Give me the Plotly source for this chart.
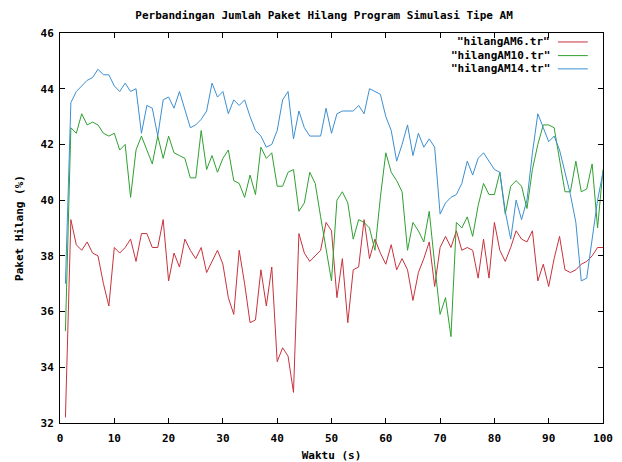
import plotly.graph_objects as go

# time (s)
waktu = list(range(1, 101))

am6 = [32.2, 39.3, 38.4, 38.2, 38.5, 38.1, 38.0, 37.0, 36.2, 38.3,
       38.1, 38.3, 38.6, 37.8, 38.8, 38.8, 38.3, 38.3, 39.3, 37.1,
       38.1, 37.6, 38.6, 38.2, 37.9, 38.3, 37.4, 37.8, 38.2, 37.7,
       36.5, 35.9, 38.2, 37.0, 35.6, 35.7, 37.5, 36.2, 37.6, 34.2,
       34.7, 34.4, 33.1, 38.8, 38.1, 37.8, 38.0, 38.2, 39.2, 38.9,
       36.5, 37.9, 35.6, 37.5, 37.6, 39.3, 37.9, 38.6, 38.1, 37.7,
       38.4, 37.5, 37.9, 37.5, 36.4, 37.4, 37.9, 38.5, 36.9, 38.3,
       38.7, 38.3, 38.9, 38.2, 38.3, 38.2, 37.2, 38.6, 37.2, 39.2,
       38.2, 37.8, 38.3, 38.9, 38.6, 38.5, 38.9, 37.1, 37.7, 36.9,
       37.9, 38.7, 37.5, 37.4, 37.5, 37.7, 37.8, 38.0, 38.3, 38.3]

am10 = [35.3, 42.6, 42.4, 43.1, 42.7, 42.8, 42.7, 42.4, 42.3, 42.4,
        41.8, 42.0, 40.1, 41.8, 42.3, 41.8, 41.3, 42.3, 41.5, 42.3,
        41.7, 41.6, 41.5, 40.8, 40.8, 42.5, 41.1, 41.6, 41.0, 41.5,
        41.8, 40.7, 40.6, 40.1, 40.9, 40.2, 41.9, 41.5, 41.7, 40.5,
        40.5, 41.0, 41.1, 39.6, 39.9, 41.0, 40.6, 39.4, 38.3, 37.1,
        40.0, 40.3, 39.9, 38.6, 39.3, 39.2, 39.0, 38.2, 40.1, 41.7,
        41.0, 40.7, 40.3, 38.2, 39.2, 38.9, 38.5, 39.6, 37.7, 35.9,
        36.5, 35.1, 39.2, 39.0, 39.4, 38.7, 39.8, 40.6, 40.2, 40.2,
        41.0, 39.5, 40.5, 40.7, 40.5, 39.7, 41.1, 42.0, 42.7, 42.7,
        42.6, 41.5, 40.3, 40.3, 41.4, 40.3, 40.4, 41.3, 39.0, 41.1]

am14 = [37.0, 43.5, 43.9, 44.1, 44.3, 44.4, 44.7, 44.5, 44.5, 44.1,
        43.9, 44.2, 43.9, 44.0, 42.4, 43.4, 43.3, 42.3, 43.6, 43.7,
        43.3, 43.9, 43.2, 42.6, 42.7, 42.9, 43.2, 44.2, 43.7, 43.9,
        43.1, 43.6, 43.4, 43.6, 43.0, 42.5, 42.3, 41.9, 42.0, 42.5,
        43.6, 43.9, 42.2, 43.2, 42.6, 42.3, 42.3, 42.3, 43.3, 42.4,
        43.1, 43.2, 43.2, 43.2, 43.4, 43.1, 44.0, 43.9, 43.8, 43.0,
        42.5, 41.4, 42.0, 42.7, 41.6, 42.4, 41.9, 42.2, 41.9, 39.5,
        39.9, 40.1, 40.2, 40.6, 41.4, 40.9, 41.5, 41.7, 41.4, 41.1,
        41.0, 39.6, 38.6, 40.0, 39.3, 40.0, 41.7, 43.1, 42.6, 42.1,
        42.3, 41.8, 41.0, 40.2, 39.2, 37.1, 37.2, 38.6, 40.0, 41.0]

names = ['"hilangAM6.tr"', '"hilangAM10.tr"', '"hilangAM14.tr"']
colors = ["#c8323c", "#2fa02f", "#3c8fd2"]
series = [am6, am10, am14]

FONT = "DejaVu Sans Mono"

fig = go.Figure()
for nm, ys, c in zip(names, series, colors):
    fig.add_trace(go.Scatter(x=waktu, y=ys, mode="lines", name=nm,
                             line=dict(color=c, width=1), showlegend=False))

# manual gnuplot-style legend (text right, sample line after)
leg_y = [0.977, 0.942, 0.908]
for nm, c, yy in zip(names, colors, leg_y):
    fig.add_annotation(x=0.906, y=yy, xref="paper", yref="paper", text=nm,
                       showarrow=False, xanchor="right", yanchor="middle",
                       font=dict(family=FONT, size=11, color="black", weight="bold"))
    fig.add_shape(type="line", xref="paper", yref="paper",
                  x0=0.917, x1=0.972, y0=yy, y1=yy,
                  line=dict(color=c, width=1))

axis_common = dict(showline=True, linecolor="black", linewidth=1, mirror="ticks",
                   ticks="inside", ticklen=5, tickcolor="black", showgrid=False,
                   zeroline=False, automargin=False,
                   tickfont=dict(family=FONT, size=11, color="black", weight="bold"))

fig.update_layout(
    width=622, height=462,
    margin=dict(l=60, r=19, t=33, b=39),
    paper_bgcolor="white", plot_bgcolor="white",
    title=dict(text="Perbandingan Jumlah Paket Hilang Program Simulasi Tipe AM",
               x=0.521, xref="container", y=0.968, yref="container",
               xanchor="center", yanchor="middle",
               font=dict(family=FONT, size=11, color="black", weight="bold")),
    xaxis=dict(range=[0, 100], dtick=10, tick0=0, ticklabelstandoff=5,
               title=dict(text="Waktu (s)", standoff=7,
                          font=dict(family=FONT, size=11, color="black", weight="bold")),
               **axis_common),
    yaxis=dict(range=[32, 46], dtick=2, tick0=32, ticklabelstandoff=3,
               title=dict(text="Paket Hilang (%)", standoff=14,
                          font=dict(family=FONT, size=11, color="black", weight="bold")),
               **axis_common),
)

fig.write_html("out.html")
